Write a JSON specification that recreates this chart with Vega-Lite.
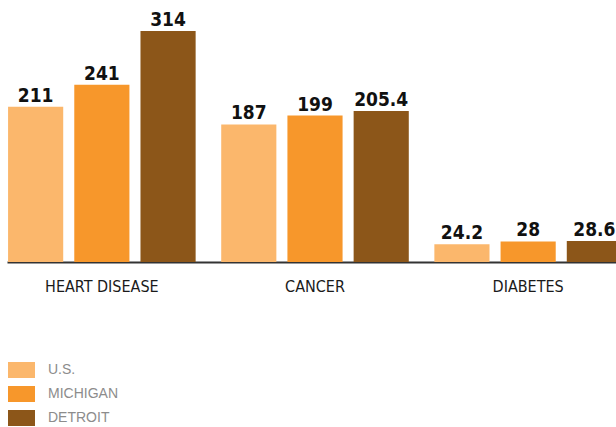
{
  "$schema": "https://vega.github.io/schema/vega-lite/v6.json",
  "autosize": "none",
  "width": 616,
  "height": 231,
  "padding": {"top": 31, "left": 7, "right": 0, "bottom": 165},
  "background": "white",
  "config": {"view": {"stroke": null}},
  "data": {"values": [
    {"cause": "HEART DISEASE", "area": "U.S.", "rate": 211},
    {"cause": "HEART DISEASE", "area": "MICHIGAN", "rate": 241},
    {"cause": "HEART DISEASE", "area": "DETROIT", "rate": 314},
    {"cause": "CANCER", "area": "U.S.", "rate": 187},
    {"cause": "CANCER", "area": "MICHIGAN", "rate": 199},
    {"cause": "CANCER", "area": "DETROIT", "rate": 205.4},
    {"cause": "DIABETES", "area": "U.S.", "rate": 24.2},
    {"cause": "DIABETES", "area": "MICHIGAN", "rate": 28},
    {"cause": "DIABETES", "area": "DETROIT", "rate": 28.6}
  ]},
  "encoding": {
    "x": {"field": "cause", "type": "nominal", "sort": ["HEART DISEASE", "CANCER", "DIABETES"],
      "scale": {"paddingInner": 0.12, "paddingOuter": 0.005},
      "axis": {"title": null, "labelAngle": 0, "ticks": false, "domainColor": "#333", "domainWidth": 2,
        "labelFont": "DejaVu Sans Condensed", "labelFontSize": 16, "labelColor": "#1a1a1a", "labelPadding": 16}},
    "xOffset": {"field": "area", "type": "nominal", "sort": ["U.S.", "MICHIGAN", "DETROIT"],
      "scale": {"paddingInner": 0.167, "paddingOuter": 0}},
    "y": {"field": "rate", "type": "quantitative", "scale": {"domain": [0, 314], "nice": false}, "axis": null}
  },
  "layer": [
    {"mark": {"type": "bar"},
     "encoding": {"color": {"field": "area", "type": "nominal", "sort": ["U.S.", "MICHIGAN", "DETROIT"],
        "scale": {"domain": ["U.S.", "MICHIGAN", "DETROIT"], "range": ["#fbb76c", "#f7972b", "#8c5619"]},
        "legend": {"title": null, "orient": "none", "legendX": 6.5, "legendY": 331, "direction": "vertical",
          "symbolType": "M-1.69,-1H1.69V1H-1.69Z", "symbolSize": 256, "symbolStrokeWidth": 0, "symbolOpacity": 1,
          "labelFont": "Liberation Sans", "labelFontSize": 14, "labelColor": "#8c8c8c", "labelOffset": 18.5, "rowPadding": 8}}}},
    {"mark": {"type": "text", "baseline": "alphabetic", "dy": -5, "font": "DejaVu Sans Condensed", "fontWeight": "bold", "fontSize": 19, "color": "#111"},
     "encoding": {"text": {"field": "rate", "type": "nominal"}}}
  ]
}
